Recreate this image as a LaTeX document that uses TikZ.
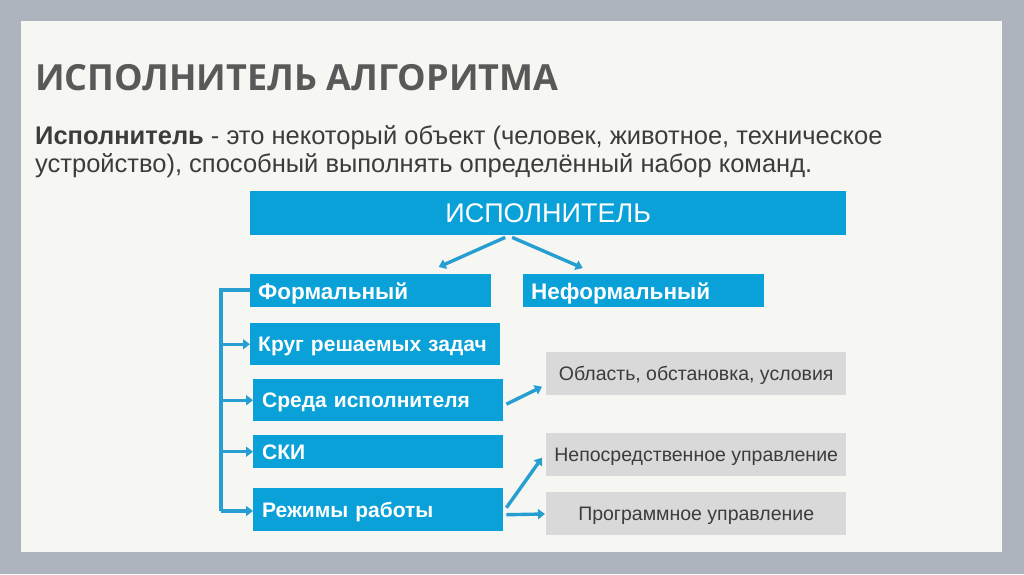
\documentclass[tikz,border=0pt]{standalone}
\usepackage{fontspec}
\setmainfont{Liberation Sans}
\newfontfamily\titlefont{Open Sans}
\usetikzlibrary{arrows.meta}
\definecolor{framegray}{RGB}{173,180,190}
\definecolor{panel}{RGB}{246,247,243}
\definecolor{boxblue}{RGB}{10,160,216}
\definecolor{arrblue}{RGB}{38,158,210}
\definecolor{boxgray}{RGB}{217,217,217}
\definecolor{titlegray}{RGB}{89,89,89}
\definecolor{textgray}{RGB}{60,60,60}
\begin{document}
\begin{tikzpicture}[x=1pt, y=-1pt,
    bluebox/.style={fill=boxblue, text=white, anchor=north west, inner sep=0pt, text depth=0pt,
      font=\fontsize{21}{24}\selectfont\bfseries, align=left},
    graybox/.style={fill=boxgray, text=textgray, anchor=north west, inner sep=0pt, text depth=0pt,
      minimum width=300pt, font=\fontsize{19.5}{22}\selectfont},
    conn/.style={draw=arrblue, line width=3.4pt, -{Triangle[width=10pt,length=7pt]}},
    rail/.style={draw=arrblue, line width=3.4pt}]
    % background
    \fill[framegray] (0,0) rectangle (1024,574);
    \fill[panel] (21,21) rectangle (1002,552);
    % title and definition
    \node[anchor=base west, inner sep=0pt, text=titlegray,
      font=\titlefont\fontsize{36}{40}\selectfont\bfseries] (title) at (35,90) {ИСПОЛНИТЕЛЬ АЛГОРИТМА};
    \node[anchor=base west, inner sep=0pt, text=textgray, font=\fontsize{25.5}{29}\selectfont]
      (def1) at (35,144) {\textbf{Исполнитель} - это некоторый объект (человек, животное, техническое};
    \node[anchor=base west, inner sep=0pt, text=textgray, font=\fontsize{25.5}{29}\selectfont]
      (def2) at (35,172) {устройство), способный выполнять определённый набор команд.};
    % blue boxes
    \node[bluebox, minimum width=596pt, minimum height=44pt, align=center,
      font=\fontsize{27}{30}\selectfont] (isp) at (250,191) {ИСПОЛНИТЕЛЬ};
    \node[bluebox, minimum height=33pt, text width=225pt, inner xsep=8pt,
      font=\fontsize{22.5}{26}\selectfont\bfseries] (form) at (250,274) {Формальный};
    \node[bluebox, minimum height=33pt, text width=225pt, inner xsep=8pt,
      font=\fontsize{22.5}{26}\selectfont\bfseries] (nonform) at (523,274) {Неформальный};
    \node[bluebox, minimum height=42pt, text width=234pt, inner xsep=8pt] (krug) at (250,323) {Круг решаемых задач};
    \node[bluebox, minimum height=42pt, text width=232pt, inner xsep=9pt] (sreda) at (253,379) {Среда исполнителя};
    \node[bluebox, minimum height=33pt, text width=232pt, inner xsep=9pt] (ski) at (253,435) {СКИ};
    \node[bluebox, minimum height=43pt, text width=232pt, inner xsep=9pt] (rezh) at (253,488) {Режимы работы};
    % gray boxes
    \node[graybox, minimum height=43pt] (obl) at (546,352) {Область, обстановка, условия};
    \node[graybox, minimum height=43pt] (neposr) at (546,433) {Непосредственное управление};
    \node[graybox, minimum height=43pt] (progr) at (546,492) {Программное управление};
    % arrows from the top box
    \draw[conn] ([xshift=-43pt,yshift=-2pt]isp.south) -- ([xshift=68pt,yshift=7pt]form.north);
    \draw[conn] ([xshift=-36pt,yshift=-2pt]isp.south) -- ([xshift=-61pt,yshift=6pt]nonform.north);
    % left rail
    \coordinate (railtop) at (221,290);
    \coordinate (railbot) at (221,511);
    \draw[rail] (form.west |- railtop) -- (railtop) -- (railbot);
    \draw[conn] (railbot) -- (rezh.west |- railbot);
    \draw[conn] (railtop |- krug.west) -- (krug.west);
    \draw[conn] (railtop |- sreda.west) -- (sreda.west);
    \draw[conn] (railtop |- ski.west) -- (ski.west);
    % right arrows
    \draw[conn] ([xshift=3pt,yshift=-4pt]sreda.east) -- ([xshift=-4pt,yshift=-13pt]obl.west);
    \draw[conn] ([xshift=3pt,yshift=2pt]rezh.east) -- ([xshift=-4pt,yshift=-3pt]neposr.west);
    \draw[conn] ([xshift=3pt,yshift=-5pt]rezh.east) -- ([xshift=-1pt]progr.west |- 0,514);
\end{tikzpicture}
\end{document}
